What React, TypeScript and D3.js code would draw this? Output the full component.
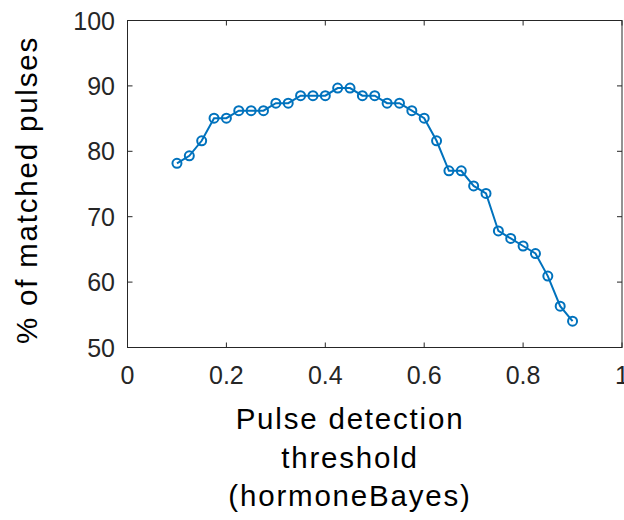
import React from "react";
import * as d3 from "d3";

const thresholds = [0.1, 0.125, 0.15, 0.175, 0.2, 0.225, 0.25, 0.275, 0.3, 0.325, 0.35, 0.375, 0.4, 0.425, 0.45, 0.475, 0.5, 0.525, 0.55, 0.575, 0.6, 0.625, 0.65, 0.675, 0.7, 0.725, 0.75, 0.775, 0.8, 0.825, 0.85, 0.875, 0.9];
const matched = [78.16, 79.31, 81.61, 85.06, 85.06, 86.21, 86.21, 86.21, 87.36, 87.36, 88.51, 88.51, 88.51, 89.66, 89.66, 88.51, 88.51, 87.36, 87.36, 86.21, 85.06, 81.61, 77.01, 77.01, 74.71, 73.56, 67.82, 66.67, 65.52, 64.37, 60.92, 56.32, 54.02];
const xTicks = [0, 0.2, 0.4, 0.6, 0.8, 1];
const yTicks = [50, 60, 70, 80, 90, 100];
const xLabelLines = ["Pulse detection", "threshold", "(hormoneBayes)"];
const yLabel = "% of matched pulses";

export default function App() {
  const W = 624, H = 520;
  const L = 127.5, R = 622, T = 20.5, B = 347.5;
  const x = d3.scaleLinear().domain([0, 1]).range([L, R]);
  const y = d3.scaleLinear().domain([50, 100]).range([B, T]);
  const line = d3.line<number>().x((_, i) => x(thresholds[i])).y((d) => y(d));
  const axisColor = "#262626";
  const font = "'Liberation Sans', Arial, Helvetica, sans-serif";
  const tl = 5;
  return (
    <svg width={W} height={H} style={{ position: "absolute", left: 0, top: 0, background: "#fff" }}>
      <rect x={L} y={T} width={R - L} height={B - T} fill="none" stroke={axisColor} strokeWidth={1} />
      {xTicks.map((t) => (
        <g key={"x" + t}>
          <line x1={x(t)} x2={x(t)} y1={B} y2={B - tl} stroke={axisColor} />
          <line x1={x(t)} x2={x(t)} y1={T} y2={T + tl} stroke={axisColor} />
          <text x={x(t)} y={384} textAnchor="middle" fontSize={25} fontFamily={font} fill={axisColor}>{String(t)}</text>
        </g>
      ))}
      {yTicks.map((t) => (
        <g key={"y" + t}>
          <line x1={L} x2={L + tl} y1={y(t)} y2={y(t)} stroke={axisColor} />
          <line x1={R} x2={R - tl} y1={y(t)} y2={y(t)} stroke={axisColor} />
          <text x={115} y={y(t) + 9} textAnchor="end" fontSize={25} fontFamily={font} fill={axisColor}>{String(t)}</text>
        </g>
      ))}
      <path d={line(matched) || ""} fill="none" stroke="#0072BD" strokeWidth={2} />
      {matched.map((v, i) => (
        <circle key={i} cx={x(thresholds[i])} cy={y(v)} r={4.5} fill="none" stroke="#0072BD" strokeWidth={2} />
      ))}
      <text transform={`translate(37,190) rotate(-90)`} textAnchor="middle" fontSize={29.5} letterSpacing={1.8} fontFamily={font} fill="#000">{yLabel}</text>
      {xLabelLines.map((s, i) => (
        <text key={s} x={350} y={429 + i * 38.5} textAnchor="middle" fontSize={29.5} letterSpacing={1.8} fontFamily={font} fill="#000">{s}</text>
      ))}
    </svg>
  );
}
